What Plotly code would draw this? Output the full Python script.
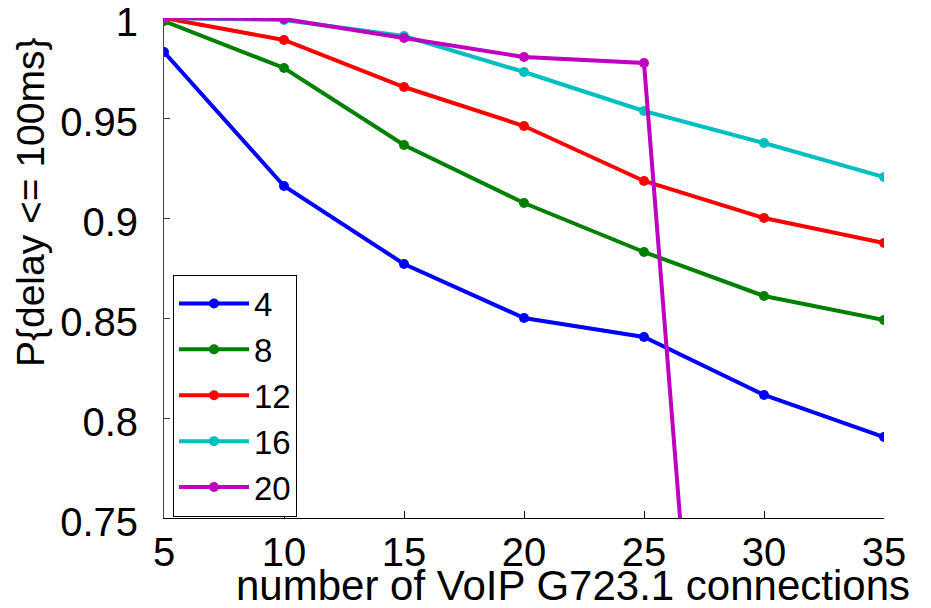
import plotly.graph_objects as go

x_connections = [5, 10, 15, 20, 25, 30, 35]
series_names = ["4", "8", "12", "16", "20"]
p_4 = [0.983, 0.916, 0.877, 0.850, 0.8405, 0.8115, 0.7905]
p_8 = [0.9985, 0.975, 0.9365, 0.9075, 0.883, 0.861, 0.849]
p_12 = [1.0, 0.989, 0.9655, 0.946, 0.9185, 0.900, 0.8875]
p_16 = [1.0, 0.999, 0.991, 0.973, 0.9535, 0.9375, 0.9205]
p_20 = [1.0, 0.9995, 0.990, 0.9805, 0.9775, 0.22, None]
colors = ["#0000FF", "#008000", "#FF0000", "#00BFBF", "#BF00BF"]

x_ticks = [5, 10, 15, 20, 25, 30, 35]
y_ticks = [0.75, 0.8, 0.85, 0.9, 0.95, 1.0]
y_tick_labels = ["0.75", "0.8", "0.85", "0.9", "0.95", "1"]

FONT = "Liberation Sans, Arial, sans-serif"

fig = go.Figure()
for name, vals, col in zip(series_names, [p_4, p_8, p_12, p_16, p_20], colors):
    fig.add_trace(go.Scatter(
        x=x_connections, y=vals, name=name, mode="lines+markers",
        line=dict(color=col, width=4),
        marker=dict(color=col, size=10, symbol="circle"),
        connectgaps=False,
    ))

fig.update_layout(
    width=931, height=608,
    margin=dict(l=164, r=47, t=18, b=90),
    paper_bgcolor="white", plot_bgcolor="white",
    font=dict(family=FONT, size=40, color="black"),
    showlegend=True,
    legend=dict(
        x=0.0125, y=0.487, xanchor="left", yanchor="top",
        bordercolor="black", borderwidth=1, bgcolor="white",
        font=dict(size=33, family=FONT, color="black"),
        tracegroupgap=0, itemwidth=70,
    ),
    xaxis=dict(
        range=[5, 35], tickvals=x_ticks, ticks="inside", ticklen=7,
        tickcolor="black", showline=True, linecolor="black", linewidth=1,
        showgrid=False, zeroline=False, tickfont=dict(size=40, family=FONT),
        ticklabelstandoff=-1, automargin=False, ticklabeloverflow="allow",
    ),
    yaxis=dict(
        range=[0.75, 1.0], tickvals=y_ticks, ticktext=y_tick_labels,
        ticks="inside", ticklen=6, tickcolor="#444", showline=True,
        linecolor="#444", linewidth=1, showgrid=False, zeroline=False,
        tickfont=dict(size=40, family=FONT), ticklabelstandoff=17,
        ticklabelshift=4, automargin=False, ticklabeloverflow="allow",
    ),
    annotations=[
        dict(text="number of VoIP G723.1 connections", xref="paper", yref="paper",
             x=0.568, y=-0.134, xanchor="center", yanchor="middle", showarrow=False,
             font=dict(size=42, family=FONT, color="black")),
        dict(text="P{delay <= 100ms}", xref="paper", yref="paper",
             x=-0.186, y=0.632, xanchor="center", yanchor="middle", showarrow=False,
             textangle=-90, font=dict(size=39, family=FONT, color="black")),
    ],
)

# remove the browser's default 8px body margin so the figure fills the window
fig.write_html("out.html", config={"displayModeBar": False},
               post_script="document.body.style.margin='0';")
